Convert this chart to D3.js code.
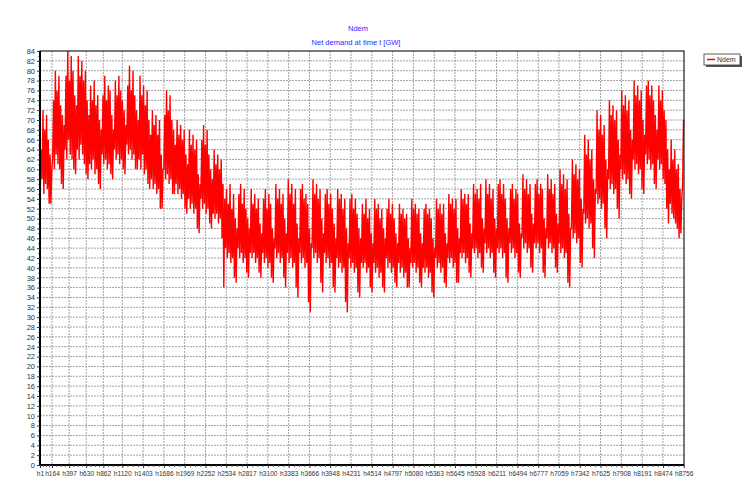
<!DOCTYPE html>
<html><head><meta charset="utf-8">
<script src="https://cdn.jsdelivr.net/npm/d3@7"></script>
<style>
body{margin:0;background:#fff;}
svg{display:block;font-family:"Liberation Sans",Arial,sans-serif;}
</style></head>
<body><svg id="c" width="745" height="495"></svg>
<script>
const title = "Ndem";
const subtitle = "Net demand at time t [GW]";
const seriesName = "Ndem";
const xTickHours = [1,164,397,630,862,1120,1403,1686,1969,2252,2534,2817,3100,3383,3666,3948,4231,4514,4797,5080,5363,5645,5928,6211,6494,6777,7059,7342,7625,7908,8191,8474,8756];
const xTickLabels = xTickHours.map(h => "h" + h);
const yTicks = d3.range(0, 85, 2);

// Daily high (peak) and low (night trough), GW, read week by week
const dailyHigh = [
 64,72,68,71,66,63,60, 74,80,76,79,73,71,69, 79,84,78,83,80,75,73, 83,79,82,78,80,74,71,
 77,74,78,73,75,70,68, 75,79,74,77,76,71,68, 78,75,79,76,74,72,69, 77,81,76,80,75,72,70,
 79,75,77,73,76,70,67, 72,69,71,67,70,63,60, 71,76,72,75,70,68,65, 70,67,69,66,68,63,61,
 68,65,67,64,66,59,57, 66,69,65,68,63,60,58, 64,61,63,60,62,57,54, 56,53,57,52,55,50,48,
 55,57,53,56,52,50,48, 56,53,55,52,54,49,47, 54,56,52,55,53,48,46, 57,54,56,53,55,50,47,
 58,55,57,53,56,49,46, 56,57,54,55,53,48,45, 58,55,57,54,56,50,47, 55,56,53,55,52,49,46,
 56,54,55,52,54,48,45, 54,55,52,54,51,48,46, 53,51,54,50,52,47,45, 54,52,53,50,52,48,46,
 52,54,51,53,50,47,45, 53,51,52,50,51,46,44, 54,52,53,51,52,47,45, 52,53,51,52,50,46,44,
 54,52,53,51,53,47,45, 55,53,54,52,54,48,46, 56,54,55,53,55,49,47, 57,55,56,54,57,50,48,
 58,55,57,54,56,50,48, 57,58,55,57,54,50,48, 56,57,54,56,55,49,47, 59,56,58,55,57,51,49,
 57,58,55,57,56,50,48, 59,56,58,55,57,51,49, 60,57,59,56,58,51,48, 62,59,61,58,60,54,52,
 67,63,66,62,64,58,56, 72,68,71,67,69,62,60, 74,71,73,70,72,66,63, 76,73,75,72,74,68,66,
 78,75,77,74,76,70,67, 77,78,75,77,74,71,68, 77,74,76,72,70,64,60, 66,62,64,60,61,56,54,
 70
];
const dailyLow = [
 56,58,55,57,56,53,53, 62,60,63,61,60,57,56, 64,62,66,63,62,60,59, 64,62,65,63,61,59,58,
 61,60,62,59,60,57,56, 63,61,62,60,61,59,58, 64,62,63,61,62,60,59, 65,63,64,62,63,60,60,
 62,60,63,59,60,57,56, 58,56,57,55,56,52,52, 60,58,59,57,58,55,55, 57,55,56,54,55,52,51,
 54,52,53,51,52,48,47, 54,52,53,51,52,49,48, 51,50,51,49,50,46,36, 44,42,43,41,42,38,37,
 44,42,43,41,42,39,38, 43,42,43,41,42,39,38, 43,41,42,40,41,38,37, 44,42,43,41,42,38,36,
 43,41,42,40,41,36,34, 43,41,42,40,41,33,31, 44,42,43,41,42,37,35, 43,41,42,40,41,36,35,
 42,40,41,39,40,33,31, 42,40,41,39,40,35,34, 41,40,41,39,40,36,35, 41,39,40,38,39,36,35,
 42,40,41,39,40,37,36, 41,39,40,38,39,36,36, 41,40,41,39,40,37,36, 40,39,40,38,39,35,34,
 42,40,41,39,40,37,36, 42,41,42,40,41,37,37, 43,42,43,41,42,39,38, 44,43,44,42,43,40,39,
 45,43,44,42,43,39,38, 44,43,44,42,43,38,37, 45,43,44,42,43,39,38, 46,44,45,43,44,40,39,
 45,44,45,43,44,39,38, 46,44,45,43,44,40,39, 45,43,44,42,43,37,36, 48,46,47,45,46,41,40,
 51,49,50,48,49,44,42, 55,53,54,52,53,48,46, 58,56,57,55,56,52,50, 60,58,59,57,58,55,54,
 62,60,61,59,60,56,55, 63,61,62,60,61,57,56, 62,60,61,58,57,52,49, 53,51,50,49,48,46,47,
 57
];

const points = [];
dailyLow.forEach((v, i) => {
  points.push({h: i * 24 + 5, v: v});
  points.push({h: i * 24 + 18, v: dailyHigh[i]});
});

const svg = d3.select("#c");
const L = 40, R = 684, T = 51, B = 465;
const x = d3.scaleLinear().domain([1, 8760]).range([L, R]);
const y = d3.scaleLinear().domain([0, 84]).range([B, T]);

// titles
svg.append("text").attr("x", 358).attr("y", 31).attr("text-anchor", "middle")
  .attr("font-size", 7.5).attr("fill", "#2b2bff").text(title);
svg.append("text").attr("x", 356).attr("y", 45).attr("text-anchor", "middle")
  .attr("font-size", 7.5).attr("fill", "#2b2bff").text(subtitle);

// grid
const grid = svg.append("g").attr("stroke", "#8a8a8a").attr("stroke-width", 0.8)
  .attr("stroke-dasharray", "2,1");
grid.selectAll("line.h").data(yTicks.filter(d => d > 0 && d < 84)).join("line")
  .attr("x1", L).attr("x2", R).attr("y1", d => y(d)).attr("y2", d => y(d));
grid.selectAll("line.v").data(xTickHours.slice(1, -1)).join("line")
  .attr("class", "v")
  .attr("y1", T).attr("y2", B).attr("x1", d => x(d)).attr("x2", d => x(d));

// series
svg.append("path").datum(points)
  .attr("fill", "none").attr("stroke", "#ff0000").attr("stroke-width", 1.4)
  .attr("d", d3.line().x(d => x(d.h)).y(d => y(d.v)));

// frame
svg.append("rect").attr("x", L).attr("y", T).attr("width", R - L).attr("height", B - T)
  .attr("fill", "none").attr("stroke", "#222").attr("stroke-width", 1.2);
svg.append("line").attr("x1", L).attr("x2", L).attr("y1", T).attr("y2", B + 1)
  .attr("stroke", "#000").attr("stroke-width", 2);
svg.append("line").attr("x1", L - 1).attr("x2", R).attr("y1", B).attr("y2", B)
  .attr("stroke", "#000").attr("stroke-width", 2);

// y axis
const yAxis = d3.axisLeft(y).tickValues(yTicks).tickSize(3).tickPadding(2);
const gy = svg.append("g").attr("transform", `translate(${L},0)`).call(yAxis);
gy.select(".domain").remove();
gy.selectAll("text").attr("font-size", 7.5).attr("fill", "#333").attr("font-family", "Liberation Sans, Arial, sans-serif");
gy.selectAll("line").attr("stroke", "#333");
const gym = svg.append("g").attr("transform", `translate(${L},0)`)
  .call(d3.axisLeft(y).tickValues(d3.range(1, 84, 2)).tickSize(1.5).tickFormat(""));
gym.select(".domain").remove();

// x axis
const xAxis = d3.axisBottom(x).tickValues(xTickHours).tickFormat((d, i) => xTickLabels[i]).tickSize(3).tickPadding(3);
const gx = svg.append("g").attr("transform", `translate(0,${B})`).call(xAxis);
gx.select(".domain").remove();
gx.selectAll("text").attr("font-size", 6.6).attr("fill", "#333").attr("font-family", "Liberation Sans, Arial, sans-serif");
gx.selectAll("line").attr("stroke", "#333");
const minor = [];
for (let i = 0; i < xTickHours.length - 1; i++) {
  const a = xTickHours[i], b = xTickHours[i + 1];
  for (let k = 1; k < 4; k++) minor.push(a + (b - a) * k / 4);
}
const gxm = svg.append("g").attr("transform", `translate(0,${B})`)
  .call(d3.axisBottom(x).tickValues(minor).tickSize(2).tickFormat(""));
gxm.select(".domain").remove();
gxm.selectAll("line").attr("stroke", "#555");

// legend
const lg = svg.append("g");
lg.append("rect").attr("x", 706).attr("y", 56).attr("width", 36).attr("height", 11).attr("fill", "#555");
lg.append("rect").attr("x", 704).attr("y", 54).attr("width", 36).attr("height", 11)
  .attr("fill", "#fff").attr("stroke", "#333").attr("stroke-width", 0.8);
lg.append("line").attr("x1", 707).attr("x2", 715).attr("y1", 59.5).attr("y2", 59.5)
  .attr("stroke", "#ff0000").attr("stroke-width", 1.5);
lg.append("text").attr("x", 717).attr("y", 62).attr("font-size", 7).attr("fill", "#333").text(seriesName);
</script></body></html>
